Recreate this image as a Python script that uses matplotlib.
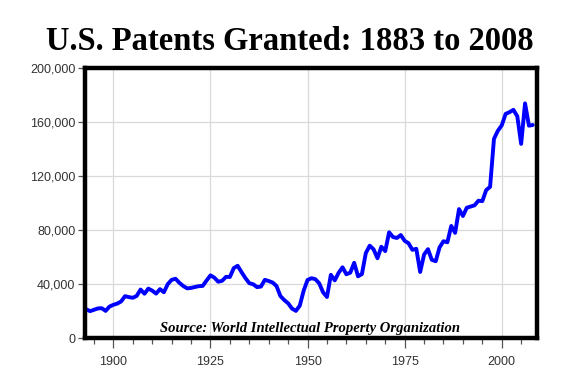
import matplotlib
matplotlib.use("Agg")
import matplotlib.pyplot as plt
from matplotlib.ticker import FuncFormatter, MultipleLocator

# Patentes concedidas por año
anios = list(range(1892, 2009))
patentes = [
    22000, 21300, 19900, 20900, 21900, 22100, 20100, 23300, 24600, 25500,
    27100, 31000, 30300, 29800, 31200, 35900, 32800, 36600, 35100, 32900,
    36200, 33900, 39900, 43100, 43900, 40900, 38500, 36800, 37100, 37800,
    38400, 38600, 42600, 46400, 44700, 41700, 42400, 45300, 45200, 51800,
    53500, 48800, 44400, 40600, 39800, 37700, 38100, 43100, 42200, 41100,
    38500, 31100, 28100, 25700, 21800, 20100, 24000, 35100, 43000, 44300,
    43600, 40500, 33800, 30400, 46800, 42700, 48300, 52400, 47200, 48400,
    55700, 45700, 47400, 62900, 68400, 65700, 59100, 67600, 64400, 78300,
    74800, 74100, 76300, 72000, 70200, 65300, 66100, 48900, 61800, 65800,
    57900, 56900, 67200, 71700, 70900, 83000, 77900, 95500, 90400, 96500,
    97400, 98300, 101700, 101400, 109600, 112000, 147500, 153500, 157500, 166000,
    167300, 169000, 164300, 143800, 173800, 157300, 157800,
]

titulo = "U.S. Patents Granted: 1883 to 2008"
fuente = "Source: World Intellectual Property Organization"

fig = plt.figure(figsize=(5.8, 3.9), dpi=100)
ax = fig.add_axes([0.1466, 0.1333, 0.7794, 0.6923])

ax.plot(anios, patentes, color="#0000ff", linewidth=2.8, solid_joinstyle="round",
        solid_capstyle="round", zorder=3)

ax.set_xlim(1892.7, 2009.1)
ax.set_ylim(0, 200000)
ax.xaxis.set_major_locator(MultipleLocator(25))
ax.xaxis.set_minor_locator(MultipleLocator(5))
ax.yaxis.set_major_locator(MultipleLocator(40000))
ax.yaxis.set_major_formatter(FuncFormatter(lambda v, p: f"{int(v):,}"))

ax.grid(True, which="major", color="#d9d9d9", linewidth=0.9, zorder=0)
for s in ax.spines.values():
    s.set_linewidth(3.2)
    s.set_color("black")
    s.set_zorder(5)

ax.tick_params(axis="x", which="major", length=7, width=0.9, color="#555555",
               labelsize=9, labelcolor="#333333", pad=6, direction="out")
ax.tick_params(axis="x", which="minor", length=4, width=0.9, color="#555555", direction="out")
ax.tick_params(axis="y", which="major", length=5, width=0.9, color="#555555",
               labelsize=9, labelcolor="#333333", pad=2, direction="out")
for t in ax.get_xticklabels() + ax.get_yticklabels():
    t.set_family("Liberation Sans")

fig.text(0.5, 0.893, titulo, ha="center", va="center", fontsize=23.5,
         fontweight="bold", family="Liberation Serif")
ax.text(0.498, 0.037, fuente, transform=ax.transAxes, ha="center", va="center",
        fontsize=10.5, fontweight="bold", fontstyle="italic", family="Liberation Serif",
        zorder=4)

fig.savefig("out.png", dpi=100)
